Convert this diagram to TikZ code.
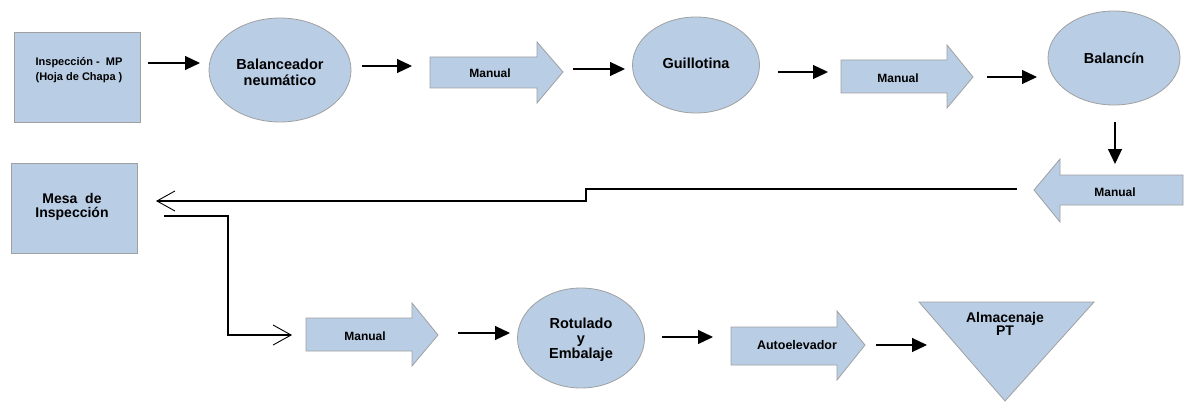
\documentclass[tikz,border=0pt]{standalone}
\usepackage{fontspec}
\setmainfont{Liberation Sans}
\usetikzlibrary{arrows.meta,shapes.geometric}

\definecolor{shapefill}{HTML}{B9CDE5}
\definecolor{shapeedge}{HTML}{A0A0A0}

\tikzset{
  x=1pt, y=-1pt,
  shapebox/.style={draw=shapeedge, fill=shapefill, line width=0.8pt},
  ovalnode/.style={shapebox, ellipse, inner sep=0pt},
  lbl/.style={font=\fontsize{14.5}{16}\selectfont\bfseries, align=center, inner sep=0pt},
  smalllbl/.style={font=\fontsize{12}{14}\selectfont\bfseries, align=center, inner sep=0pt},
  conn/.style={line width=1.2pt, -{Triangle[length=15pt,width=14pt]}},
  flow/.style={line width=1.2pt, -{Straight Barb[length=18pt,width=20pt,line width=0.9pt]}},
}

% right-pointing block arrow: #1 tail x, #2 head base x, #3 tip x,
% #4 body top, #5 body bottom, #6 head top, #7 head bottom, #8 tip y
\newcommand{\rightblock}[8]{%
  \draw[shapebox] (#1,#4) -- (#2,#4) -- (#2,#6) -- (#3,#8) -- (#2,#7)
    -- (#2,#5) -- (#1,#5) -- cycle;}

\begin{document}
\begin{tikzpicture}
\useasboundingbox (0,0) rectangle (1185,409);

% ---------- upper row ----------
\draw[shapebox] (14,32) rectangle (140,122);
\node[lbl, font=\fontsize{11}{15}\selectfont\bfseries] (insp) at (79,70)
  {Inspección -\ \ MP\\(Hoja de Chapa )};

\node[ovalnode, minimum width=142pt, minimum height=104pt] (bal) at (280,70) {};
\node[lbl] (baltxt) at (280,72) {Balanceador\\neumático};

\rightblock{430}{537}{563}{57}{88}{42}{103}{72}
\node[smalllbl] (man1) at (490,73) {Manual};

\node[ovalnode, minimum width=127pt, minimum height=96pt] (guil) at (696,65) {};
\node[lbl] (guiltxt) at (696,63) {Guillotina};

\rightblock{841}{947}{973}{60}{93}{45}{108}{77}
\node[smalllbl] (man2) at (898,78) {Manual};

\node[ovalnode, minimum width=132pt, minimum height=94pt] (balc) at (1114,58) {};
\node[lbl] (balctxt) at (1114,58) {Balancín};

% ---------- middle row ----------
\draw[shapebox] (1183,175) -- (1060,175) -- (1060,159) -- (1034,190)
  -- (1060,222) -- (1060,205) -- (1183,205) -- cycle;
\node[smalllbl] (man3) at (1115,192) {Manual};

\draw[shapebox] (11,163) rectangle (137,253);
\node[lbl, font=\fontsize{14}{14}\selectfont\bfseries] (mesa) at (72,207)
  {Mesa\ \ de\\Inspección};

% ---------- lower row ----------
\rightblock{306}{412}{438}{318}{351}{303}{366}{335}
\node[smalllbl] (man4) at (365,336) {Manual};

\node[ovalnode, minimum width=127pt, minimum height=100pt] (rot) at (581,338) {};
\node[lbl, font=\fontsize{14.5}{15}\selectfont\bfseries] (rottxt) at (581,340)
  {Rotulado\\y\\Embalaje};

\rightblock{731}{837}{865}{327}{365}{311}{380}{345}
\node[smalllbl, font=\fontsize{12.5}{14}\selectfont\bfseries] (auto) at (797,345) {Autoelevador};

\draw[shapebox] (919,302) -- (1094,302) -- (1005,401) -- cycle;
\node[lbl, font=\fontsize{14}{13}\selectfont\bfseries] (almtxt) at (1005,324)
  {Almacenaje\\PT};

% ---------- connector end points ----------
\coordinate (a1s) at (148,63);  \coordinate (a1e) at (200,63);
\coordinate (a2s) at (362,66);  \coordinate (a2e) at (412,66);
\coordinate (a3s) at (573,69);  \coordinate (a3e) at (625,69);
\coordinate (a4s) at (778,72);  \coordinate (a4e) at (828,72);
\coordinate (a5s) at (987,77);  \coordinate (a5e) at (1037,77);
\coordinate (a6s) at (1115,122); \coordinate (a6e) at (1115,164);
\coordinate (a7s) at (458,333); \coordinate (a7e) at (510,333);
\coordinate (a8s) at (662,337); \coordinate (a8e) at (713,337);
\coordinate (a9s) at (876,345); \coordinate (a9e) at (927,345);

\coordinate (r1s) at (1017,189); \coordinate (r1e) at (156,201);
\coordinate (r2s) at (164,216);  \coordinate (r2e) at (292,335);

% ---------- connectors ----------
\draw[conn] (a1s) -- (a1e);
\draw[conn] (a2s) -- (a2e);
\draw[conn] (a3s) -- (a3e);
\draw[conn] (a4s) -- (a4e);
\draw[conn] (a5s) -- (a5e);
\draw[conn] (a6s) -- (a6e);
\draw[conn] (a7s) -- (a7e);
\draw[conn] (a8s) -- (a8e);
\draw[conn] (a9s) -- (a9e);

\draw[flow] (r1s) -- (586,189) -- (586,201) -- (r1e);
\draw[flow] (r2s) -- (228,216) -- (228,335) -- (r2e);
\end{tikzpicture}
\end{document}
